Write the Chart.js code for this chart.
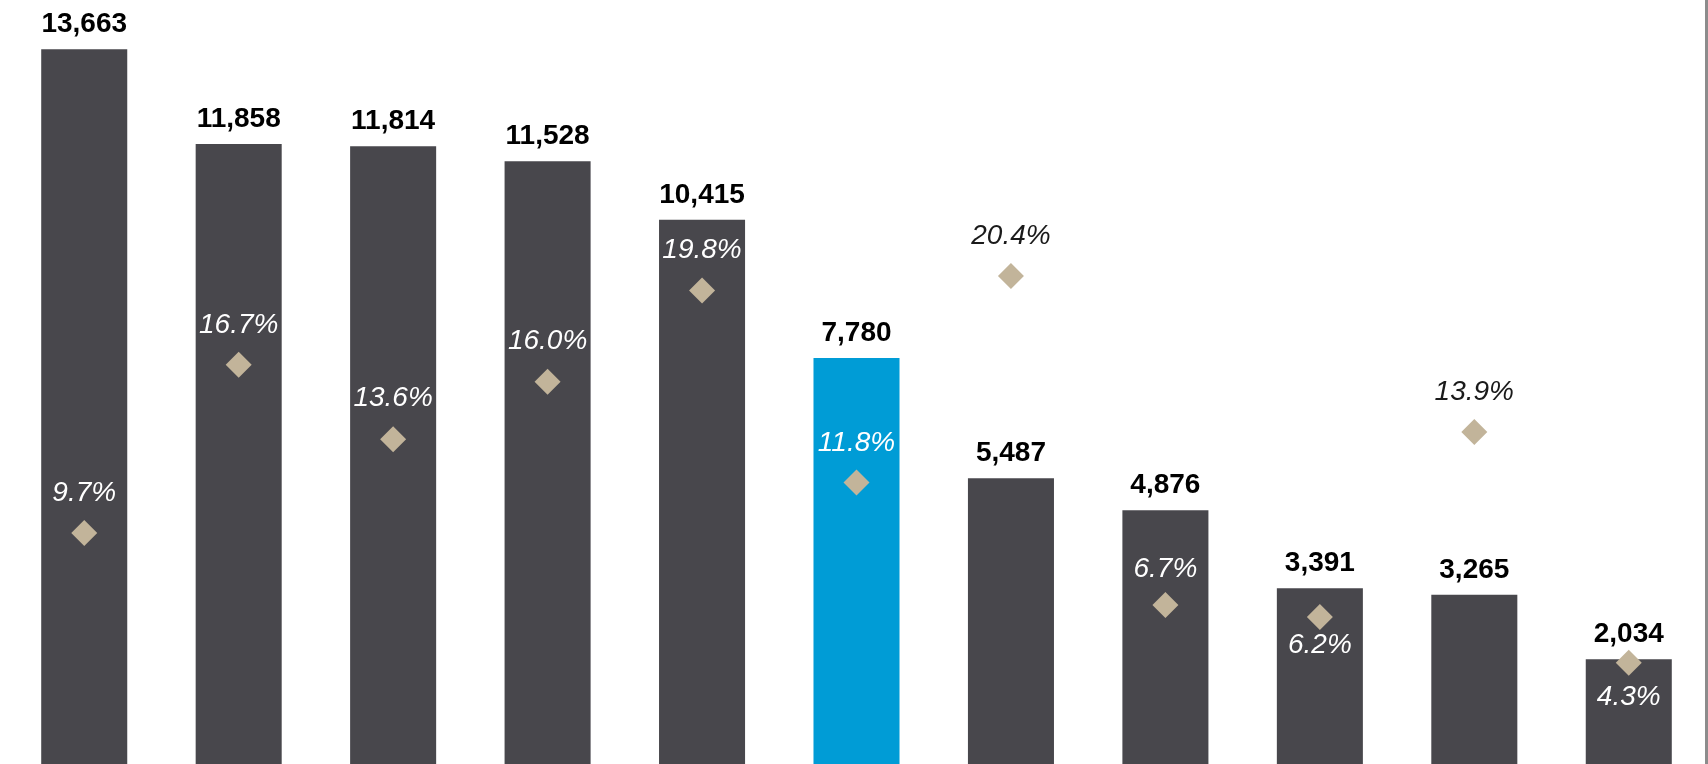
<!DOCTYPE html>
<html>
<head>
<meta charset="utf-8">
<script src="https://cdn.jsdelivr.net/npm/chart.js@4/dist/chart.umd.min.js"></script>
<style>
  html, body { margin: 0; padding: 0; background: #fff; overflow: hidden; }
  #wrap { width: 1708px; height: 764px; overflow: hidden; }
</style>
</head>
<body>
<div id="wrap"><canvas id="chart" width="1708" height="766"></canvas></div>
<script>
const categories = ["A", "B", "C", "D", "E", "F", "G", "H", "I", "J", "K"];
const totals = [13663, 11858, 11814, 11528, 10415, 7780, 5487, 4876, 3391, 3265, 2034];
const shares = [9.7, 16.7, 13.6, 16.0, 19.8, 11.8, 20.4, 6.7, 6.2, 13.9, 4.3];
const highlightIndex = 5;

const barColors = totals.map((v, i) => i === highlightIndex ? "#009CD6" : "#48474C");

// distance of the % label from its diamond (negative = above)
const shareLabelOffsets = [-40, -40, -41, -40, -40, -39, -40, -36, 28, -40, 34];

const labelPlugin = {
    id: "barLabels",
    afterDatasetsDraw(chart) {
        const ctx = chart.ctx;
        const barMeta = chart.getDatasetMeta(1);
        const pointMeta = chart.getDatasetMeta(0);
        ctx.save();
        ctx.textAlign = "center";

        // totals above the bars
        ctx.font = "bold 28px 'Liberation Sans', Arial, sans-serif";
        ctx.fillStyle = "#000";
        ctx.textBaseline = "alphabetic";
        barMeta.data.forEach((bar, i) => {
            ctx.fillText(totals[i].toLocaleString("en-US"), bar.x, bar.y - 17);
        });

        // percentages near the diamonds
        ctx.font = "italic 28px 'Liberation Sans', Arial, sans-serif";
        ctx.textBaseline = "middle";
        pointMeta.data.forEach((pt, i) => {
            const y = pt.y + shareLabelOffsets[i];
            const inside = y > barMeta.data[i].y;
            ctx.fillStyle = inside ? "#fff" : "#1a1a1a";
            ctx.fillText(shares[i].toFixed(1) + "%", pt.x, y);
        });
        ctx.restore();
    }
};

new Chart(document.getElementById("chart"), {
    data: {
        labels: categories,
        datasets: [
            {
                type: "line",
                label: "Share",
                data: shares,
                yAxisID: "y2",
                showLine: false,
                clip: false,
                pointStyle: "rectRot",
                pointRadius: 13,
                pointHoverRadius: 13,
                pointBorderWidth: 0,
                pointBackgroundColor: "#C2B49A",
                order: 0
            },
            {
                type: "bar",
                label: "Total",
                data: totals,
                yAxisID: "y",
                backgroundColor: barColors,
                borderWidth: 0,
                categoryPercentage: 1,
                barPercentage: 0.557,
                order: 1
            }
        ]
    },
    options: {
        responsive: false,
        animation: false,
        layout: {
            autoPadding: false,
            padding: { left: 7, right: 2, top: 0, bottom: 0 }
        },
        plugins: {
            legend: { display: false },
            tooltip: { enabled: false }
        },
        scales: {
            x: {
                display: false,
                offset: true
            },
            y: {
                display: false,
                min: 0,
                max: 14603
            },
            y2: {
                position: "right",
                min: 0,
                max: 31.89,
                grid: { display: false, drawTicks: false },
                ticks: { display: false },
                border: { display: true, color: "#8c8c8c", width: 3 }
            }
        }
    },
    plugins: [labelPlugin]
});
</script>
</body>
</html>
